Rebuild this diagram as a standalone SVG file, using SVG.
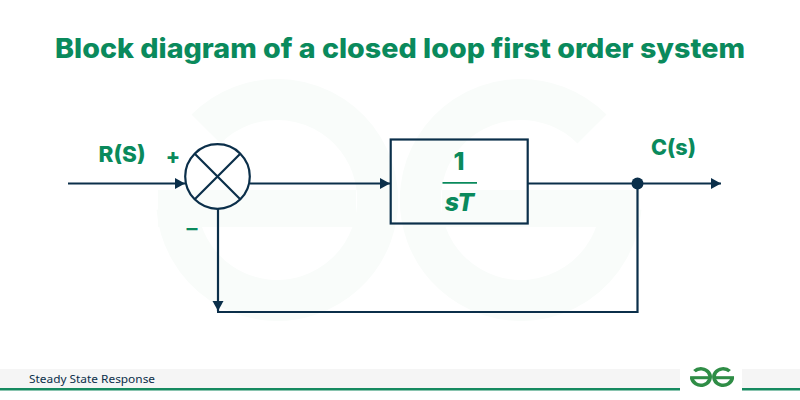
<svg xmlns="http://www.w3.org/2000/svg" width="800" height="400" viewBox="0 0 800 400">
<style>
.t{font-family:"Inter","Liberation Sans",sans-serif;font-weight:800;fill:#0a8a5c}
.c{fill:none;stroke:#0b2f4a;stroke-width:2.200}
</style>
<defs>
<marker id="a" markerUnits="userSpaceOnUse" markerWidth="11" markerHeight="12" refX="10" refY="5.500" orient="auto"><path d="M0 0L10 5.500L0 11Z" fill="#0b2f4a"/></marker>
<g id="gg">
<path d="M206 129A100.500 100.500 0 1 1 177 208" fill="none" stroke-width="41"/>
<rect x="158" y="190" width="198" height="37" stroke="none"/>
<path d="M592 129A100.500 100.500 0 1 0 621 208" fill="none" stroke-width="41"/>
<rect x="442" y="190" width="198" height="37" stroke="none"/>
</g>
</defs>
<rect width="800" height="400" fill="#fff"/>
<use href="#gg" fill="#f9fcfa" stroke="#f9fcfa"/>
<text class="t" x="400" y="58" font-size="27" text-anchor="middle" textLength="690" lengthAdjust="spacingAndGlyphs">Block diagram of a closed loop first order system</text>
<g id="connectors">
<path class="c" d="M68 183.500H185" marker-end="url(#a)"/>
<path class="c" d="M250 183.500H390" marker-end="url(#a)"/>
<path class="c" d="M528 183.500H721" marker-end="url(#a)"/>
<path class="c" d="M637.500 183.500V312H217"/>
<path class="c" d="M218 209V311" marker-end="url(#a)"/>
</g>
<g id="sum">
<circle class="c" cx="217.500" cy="176.500" r="32.300"/>
<path class="c" d="M194.500 153.500L240.500 199.500M240.500 153.500L194.500 199.500"/>
</g>
<g id="block">
<rect class="c" x="390.700" y="139.500" width="137" height="84"/>
<text class="t" x="459" y="170" font-size="25" text-anchor="middle">1</text>
<path d="M442.500 182.800H477" stroke="#0a8a5c" stroke-width="1.800"/>
<text class="t" x="459.500" y="211" font-size="25" font-style="italic" text-anchor="middle">sT</text>
</g>
<g id="junction"><circle cx="637.500" cy="183.500" r="6" fill="#0b2f4a"/></g>
<g id="labels">
<text class="t" x="98.500" y="162" font-size="22" textLength="47" lengthAdjust="spacingAndGlyphs">R(S)</text>
<text class="t" x="173" y="164" font-size="21" text-anchor="middle">+</text>
<text class="t" x="192" y="236" font-size="22" font-weight="600" style="font-weight:600" text-anchor="middle">–</text>
<text class="t" x="651" y="155" font-size="22" textLength="45" lengthAdjust="spacingAndGlyphs">C(s)</text>
</g>
<g id="footer">
<rect y="369" width="680" height="19" fill="#f5f5f5"/>
<rect x="742" y="369" width="58" height="19" fill="#f5f5f5"/>
<rect y="388" width="680" height="2.500" fill="#168a60"/>
<rect x="742" y="388" width="58" height="2.500" fill="#168a60"/>
<text x="29" y="383" font-family="'Noto Sans','Open Sans',sans-serif" font-size="11" fill="#0b2f4a" textLength="126" lengthAdjust="spacingAndGlyphs">Steady State Response</text>
<use href="#gg" fill="#2f8d46" stroke="#2f8d46" transform="translate(690 367) scale(0.0911 0.082) translate(-157 -78)"/>
</g>
</svg>
